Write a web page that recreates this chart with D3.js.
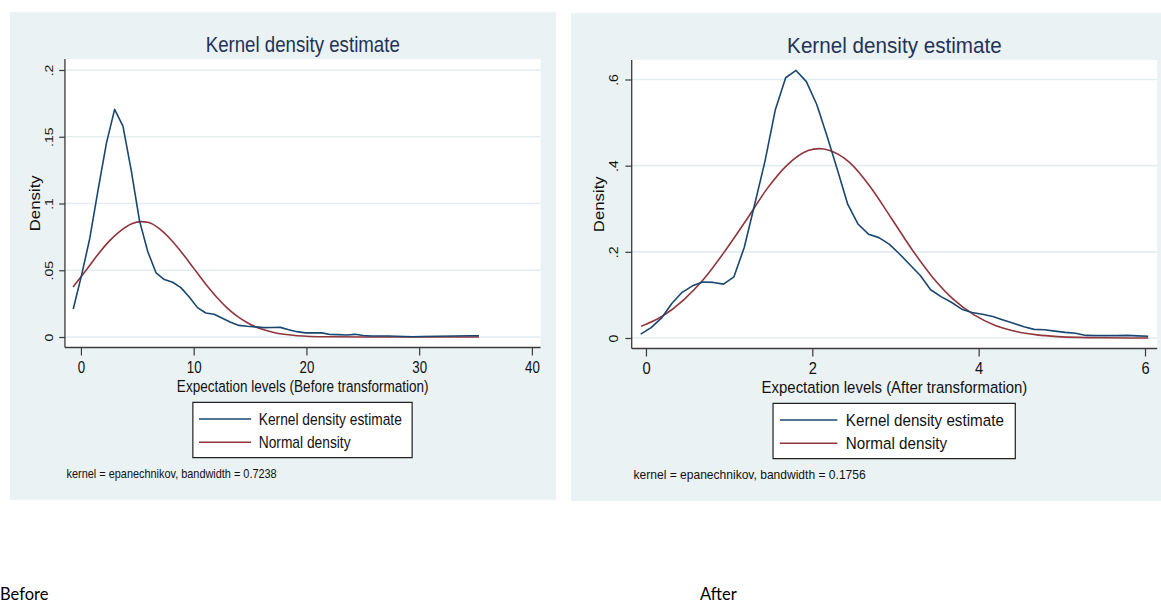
<!DOCTYPE html>
<html><head><meta charset="utf-8">
<script src="https://cdn.jsdelivr.net/npm/d3@7"></script>
<style>body{margin:0;background:#fff;} svg{display:block}</style>
</head><body><svg id="c" width="1161" height="606"></svg>
<script>
// ---------- DATA ----------
// Before transformation: kernel density estimate (blue)
const kdeBeforeX = [-0.69,0.04,0.78,1.51,2.25,2.98,3.72,4.45,5.19,5.92,6.66,7.39,8.13,8.86,9.6,10.33,11.07,11.8,12.54,13.27,14.01,14.74,15.48,16.21,16.95,17.68,18.42,19.15,19.89,20.62,21.36,22.09,22.83,23.56,24.3,25.03,25.77,27.24,28.7,29.44,30.17,31.6,33.1,34.5,35.3];
const kdeBeforeY = [0.021,0.046,0.074,0.110,0.145,0.1705,0.158,0.125,0.087,0.064,0.048,0.043,0.041,0.037,0.030,0.022,0.018,0.017,0.014,0.011,0.0087,0.008,0.0076,0.007,0.0071,0.0072,0.0055,0.004,0.0031,0.0032,0.0031,0.0019,0.0018,0.0015,0.002,0.0011,0.0008,0.0008,0.0004,0.0002,0.0004,0.0006,0.0007,0.0009,0.0009];
// Before transformation: normal density (red)
const normalBeforeX = [-0.7,0.5,1.5,2.5,3.5,4.5,5.3,6,7,8,9,10,11,12,13,14,15,16,17,18,19,20,22,25,30,35.3];
const normalBeforeY = [0.0375,0.0505,0.0618,0.0718,0.0795,0.0848,0.0864,0.0857,0.0808,0.0727,0.0626,0.0514,0.0403,0.0302,0.0215,0.0147,0.0096,0.006,0.0036,0.002,0.0011,0.0006,0.0002,0,0,0];
// After transformation: kernel density estimate (blue)
const kdeAfterX = [-0.064,0.061,0.185,0.31,0.434,0.559,0.683,0.808,0.932,1.057,1.181,1.306,1.43,1.555,1.679,1.804,1.928,2.053,2.177,2.302,2.426,2.551,2.675,2.8,2.924,3.049,3.173,3.298,3.422,3.547,3.671,3.796,3.92,4.045,4.169,4.294,4.418,4.543,4.667,4.792,4.916,5.041,5.165,5.29,5.414,5.539,5.663,5.788,5.912,6.037];
const kdeAfterY = [0.009,0.024,0.046,0.080,0.106,0.121,0.130,0.129,0.125,0.142,0.21,0.31,0.41,0.53,0.604,0.621,0.595,0.542,0.468,0.39,0.31,0.264,0.241,0.233,0.218,0.195,0.17,0.145,0.112,0.096,0.083,0.067,0.059,0.055,0.050,0.042,0.034,0.026,0.020,0.019,0.016,0.013,0.011,0.006,0.0055,0.0055,0.0055,0.006,0.005,0.004];
// After transformation: normal density (red)
const normalAfterX = [-0.06,0.2,0.45,0.7,0.95,1.2,1.45,1.7,1.95,2.08,2.2,2.45,2.7,2.95,3.2,3.45,3.7,3.95,4.2,4.45,4.7,4.95,5.2,5.5,5.8,6.04];
const normalAfterY = [0.027,0.051,0.088,0.138,0.202,0.272,0.345,0.402,0.435,0.4395,0.436,0.407,0.350,0.278,0.205,0.140,0.089,0.053,0.029,0.015,0.0072,0.0033,0.0014,0.0005,0.0001,0];

const beforeXTicks = [0,10,20,30,40];
const beforeYTicks = [0,0.05,0.1,0.15,0.2];
const beforeYTickLabels = ["0",".05",".1",".15",".2"];
const afterXTicks = [0,2,4,6];
const afterYTicks = [0,0.2,0.4,0.6];
const afterYTickLabels = ["0",".2",".4",".6"];

const seriesNames = ["Kernel density estimate","Normal density"];
const titleText = "Kernel density estimate";
const yTitle = "Density";
const xTitles = ["Expectation levels (Before transformation)","Expectation levels (After transformation)"];
const notes = ["kernel = epanechnikov, bandwidth = 0.7238","kernel = epanechnikov, bandwidth = 0.1756"];
const captions = ["Before","After"];

// ---------- DRAWING ----------
const svg = d3.select("#c");
const FONT = "'Liberation Sans', Arial, Helvetica, sans-serif";
const BG = "#eaf2f3", GRID = "#e3edf0", BLUE = "#1a476f", RED = "#90353b", AXIS = "#3a3a3a";

const panels = [
  {tx:10, ty:12, sx:0.82, xDomain:[0,40], xRange:[86.6,636.6], yDomain:[0,0.2], yRange:[325,58],
   xTicks:beforeXTicks, yTicks:beforeYTicks, yLabels:beforeYTickLabels,
   kde:d3.zip(kdeBeforeX,kdeBeforeY), norm:d3.zip(normalBeforeX,normalBeforeY), xTitle:xTitles[0], note:notes[0]},
  {tx:571, ty:13, sx:0.906, xDomain:[0,6], xRange:[82.8,633.6], yDomain:[0,0.6], yRange:[325,66.5],
   xTicks:afterXTicks, yTicks:afterYTicks, yLabels:afterYTickLabels,
   kde:d3.zip(kdeAfterX,kdeAfterY), norm:d3.zip(normalAfterX,normalAfterY), xTitle:xTitles[1], note:notes[1]}
];

const plotL = 67, plotR = 647, plotT = 47, plotB = 335.5;

panels.forEach(p => {
  const g = svg.append("g").attr("transform", `translate(${p.tx},${p.ty}) scale(${p.sx},1)`);
  const x = d3.scaleLinear().domain(p.xDomain).range(p.xRange);
  const y = d3.scaleLinear().domain(p.yDomain).range(p.yRange);

  g.append("rect").attr("x",0).attr("y",0).attr("width",666).attr("height",488).attr("fill",BG);
  g.append("rect").attr("x",plotL).attr("y",plotT).attr("width",plotR-plotL).attr("height",plotB-plotT).attr("fill","#fff");

  // grid lines
  g.selectAll(".grid").data(p.yTicks).join("line")
    .attr("x1",plotL).attr("x2",plotR).attr("y1",d=>y(d)).attr("y2",d=>y(d))
    .attr("stroke",GRID).attr("stroke-width",1.6).attr("vector-effect","non-scaling-stroke");

  // y axis
  const ya = g.append("g").attr("transform",`translate(${plotL},0)`)
    .call(d3.axisLeft(y).tickValues(p.yTicks).tickSize(7).tickSizeOuter(0).tickFormat((d,i)=>p.yLabels[i]));
  ya.select(".domain").remove();
  ya.selectAll(".tick line").attr("stroke",AXIS).attr("stroke-width",1.2).attr("vector-effect","non-scaling-stroke");
  ya.selectAll(".tick text").attr("transform","rotate(-90)").attr("x",0).attr("y",52-plotL).attr("dy",0)
    .attr("text-anchor","middle").attr("font-family",FONT).attr("font-size",14).attr("fill","#111");

  // x axis
  const xa = g.append("g").attr("transform",`translate(0,${plotB})`)
    .call(d3.axisBottom(x).tickValues(p.xTicks).tickSize(8).tickSizeOuter(0).tickFormat(d3.format("d")));
  xa.select(".domain").remove();
  xa.selectAll(".tick line").attr("stroke",AXIS).attr("stroke-width",1.2).attr("vector-effect","non-scaling-stroke");
  xa.selectAll(".tick text").attr("y",361-plotB).attr("dy",0)
    .attr("font-family",FONT).attr("font-size",16.2).attr("fill","#111");

  // axis lines
  g.append("line").attr("x1",plotL).attr("x2",plotL).attr("y1",plotT).attr("y2",plotB)
    .attr("stroke",AXIS).attr("stroke-width",1.3).attr("vector-effect","non-scaling-stroke");
  g.append("line").attr("x1",plotL).attr("x2",plotR).attr("y1",plotB).attr("y2",plotB)
    .attr("stroke",AXIS).attr("stroke-width",1.3).attr("vector-effect","non-scaling-stroke");

  // curves
  const lineLin = d3.line().x(d=>x(d[0])).y(d=>y(d[1]));
  const lineSmooth = d3.line().x(d=>x(d[0])).y(d=>y(d[1])).curve(d3.curveMonotoneX);
  g.append("path").datum(p.norm).attr("d",lineSmooth).attr("fill","none").attr("stroke",RED)
    .attr("stroke-width",1.6).attr("vector-effect","non-scaling-stroke");
  g.append("path").datum(p.kde).attr("d",lineLin).attr("fill","none").attr("stroke",BLUE)
    .attr("stroke-width",1.6).attr("vector-effect","non-scaling-stroke").attr("stroke-linejoin","round");

  // titles
  g.append("text").attr("x",(plotL+plotR)/2).attr("y",40).attr("text-anchor","middle")
    .attr("font-family",FONT).attr("font-size",22.8).attr("fill","#243259").text(titleText);
  g.append("text").attr("transform",`translate(36,${(plotT+plotB)/2}) rotate(-90)`).attr("text-anchor","middle")
    .attr("font-family",FONT).attr("font-size",16.8).attr("fill","#111").text(yTitle);
  g.append("text").attr("x",(plotL+plotR)/2).attr("y",380).attr("text-anchor","middle")
    .attr("font-family",FONT).attr("font-size",16.5).attr("fill","#111").text(p.xTitle);

  // legend
  g.append("rect").attr("x",223).attr("y",390.3).attr("width",267.4).attr("height",55.4)
    .attr("fill","#fff").attr("stroke","#222").attr("stroke-width",1.2).attr("vector-effect","non-scaling-stroke");
  [BLUE,RED].forEach((c,i)=>{
    const ly = [407,430.3][i];
    g.append("line").attr("x1",230.5).attr("x2",294).attr("y1",ly).attr("y2",ly)
      .attr("stroke",c).attr("stroke-width",1.6).attr("vector-effect","non-scaling-stroke");
    g.append("text").attr("x",303.3).attr("y",[413,436][i]).attr("font-family",FONT)
      .attr("font-size",16.8).attr("fill","#111").text(seriesNames[i]);
  });

  g.append("text").attr("x",69).attr("y",466).attr("font-family",FONT).attr("font-size",13.3)
    .attr("fill","#111").text(p.note);
});

// captions below the panels
svg.append("text").attr("x",0).attr("y",600).attr("font-family","Lato, 'Open Sans', sans-serif")
  .attr("font-size",16.5).attr("fill","#000").text(captions[0]);
svg.append("text").attr("x",700).attr("y",600).attr("font-family","Lato, 'Open Sans', sans-serif")
  .attr("font-size",16.5).attr("fill","#000").text(captions[1]);
</script>
</body></html>
